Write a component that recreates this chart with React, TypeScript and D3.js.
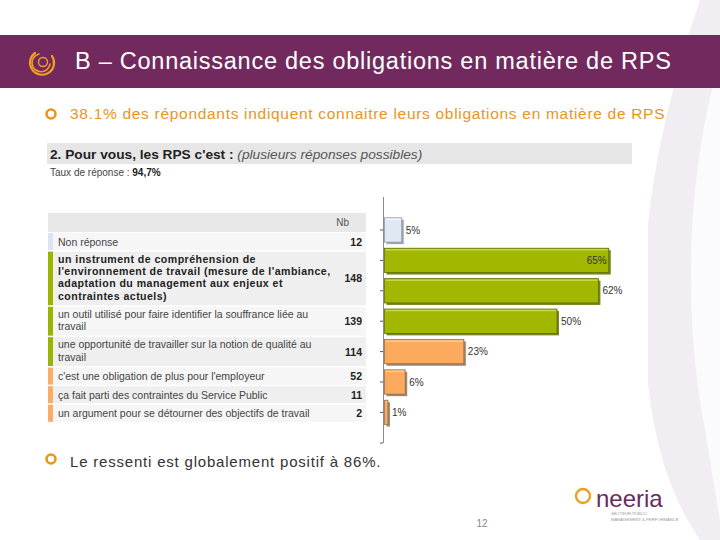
import React from "react";
import * as d3 from "d3";

const categories = [
  "Non réponse",
  "un instrument de compréhension de l'environnement de travail",
  "un outil utilisé pour faire identifier la souffrance liée au travail",
  "une opportunité de travailler sur la notion de qualité au travail",
  "c'est une obligation de plus pour l'employeur",
  "ça fait parti des contraintes du Service Public",
  "un argument pour se détourner des objectifs de travail",
];
const tableLines = [
  ["Non réponse"],
  ["un instrument de compréhension de", "l'environnement de travail (mesure de l'ambiance,", "adaptation du management aux enjeux et", "contraintes actuels)"],
  ["un outil utilisé pour faire identifier la souffrance liée au", "travail"],
  ["une opportunité de travailler sur la notion de qualité au", "travail"],
  ["c'est une obligation de plus pour l'employeur"],
  ["ça fait parti des contraintes du Service Public"],
  ["un argument pour se détourner des objectifs de travail"],
];
const counts = [12, 148, 139, 114, 52, 11, 2];
const percents = [5, 65, 62, 50, 23, 6, 1];
const groups = ["none", "green", "green", "green", "orange", "orange", "orange"];

const palette: Record<string, { fill: string; dark: string; light: string; marker: string }> = {
  none: { fill: "#dfe8f3", dark: "#8a96a6", light: "#f4f8fc", marker: "#dbe5f1" },
  green: { fill: "#a2b800", dark: "#5f6e00", light: "#c6d84a", marker: "#9bb400" },
  orange: { fill: "#fcab5e", dark: "#8f7054", light: "#fdc992", marker: "#f8ae68" },
};

const FONT = "'Liberation Sans', Arial, sans-serif";

export default function App() {
  const W = 720, H = 540;
  const x = d3.scaleLinear().domain([0, 100]).range([384, 729]);
  const y = d3.scaleBand<number>().domain(d3.range(categories.length)).range([214.8, 427.6]).paddingInner(0.2).paddingOuter(0.1);

  const rowH = tableLines.map((l) => (l.length === 1 ? 17 : l.length * 12.4 + 4));
  const rowTops: number[] = [];
  let cy = 233;
  rowH.forEach((h) => { rowTops.push(cy); cy += h + 1.6; });

  return (
    <div style={{ position: "absolute", left: 0, top: 0 }}>
      <svg width={W} height={H} style={{ display: "block" }}>
        <rect width={W} height={H} fill="#ffffff" />
        <path d="M700,0 C660,120 630,250 650,400 C660,470 680,510 700,540 L720,540 L720,0 Z" fill="#f1eef3" />
        <path d="M720,60 C690,160 680,300 705,430 C712,470 716,500 720,520 Z" fill="#fbfafc" />
        <rect x={0} y={35} width={W} height={53} fill="#722a5e" />
        <g transform="translate(43,62)" fill="none" stroke="#f0a020" strokeLinecap="round">
          <path d="M-8,-9 A12,12 0 1,0 9,-6" strokeWidth={2.2} />
          <path d="M-4,-8 A9,9 0 1,0 7,2" strokeWidth={1.6} />
          <circle r={4.5} strokeWidth={1.4} />
        </g>
        <text x={75} y={68.5} fill="#ffffff" fontFamily={FONT} fontSize={23.5} letterSpacing={0.75}>B – Connaissance des obligations en matière de RPS</text>

        <circle cx={51} cy={114} r={4.5} fill="none" stroke="#e8961e" strokeWidth={2.6} />
        <text x={70} y={119} fill="#e8961e" fontFamily={FONT} fontSize={15.5} letterSpacing={0.7}>38.1% des répondants indiquent connaitre leurs obligations en matière de RPS</text>

        <rect x={45} y={140} width={603} height={305} fill="#ffffff" />
        <rect x={47} y={143} width={585} height={21} fill="#e6e6e6" />
        <text x={50} y={159} fontFamily={FONT} fontSize={13.7}>
          <tspan fontWeight="bold" fill="#222">2. Pour vous, les RPS c'est : </tspan>
          <tspan fontStyle="italic" fill="#555">(plusieurs réponses possibles)</tspan>
        </text>
        <text x={50} y={176} fontFamily={FONT} fontSize={10} fill="#444">
          Taux de réponse : <tspan fontWeight="bold" fill="#222">94,7%</tspan>
        </text>

        <rect x={48} y={213} width={318} height={19} fill="#e8e8e8" />
        <text x={349} y={226} fontFamily={FONT} fontSize={10} fill="#555" textAnchor="end">Nb</text>
        {tableLines.map((lines, i) => {
          const top = rowTops[i];
          const h = rowH[i];
          const bold = i === 1;
          const g = palette[groups[i]];
          return (
            <g key={i}>
              <rect x={48} y={top} width={318} height={h} fill={i % 2 === 1 ? "#efefef" : "#f6f6f6"} />
              <rect x={48} y={top} width={5} height={h} fill={g.marker} />
              {lines.map((ln, j) => (
                <text key={j} x={58} y={top + (lines.length === 1 ? 12.5 : 11 + j * 12.4)} fontFamily={FONT} fontSize={bold ? 10.6 : 10.5} letterSpacing={bold ? 0.45 : 0} fontWeight={bold ? "bold" : "normal"} fill={bold ? "#222" : "#444"}>{ln}</text>
              ))}
              <text x={362} y={top + h / 2 + 4} fontFamily={FONT} fontSize={10.5} fontWeight="bold" fill="#222" textAnchor="end">{counts[i]}</text>
            </g>
          );
        })}

        <line x1={383.5} x2={383.5} y1={197} y2={443} stroke="#8c8c8c" />
        {categories.map((_, i) => {
          const c = (y(i) as number) + y.bandwidth() / 2;
          return <line key={i} x1={380} x2={383} y1={c} y2={c} stroke="#555" />;
        })}
        <line x1={380} x2={383} y1={443} y2={443} stroke="#555" />

        {percents.map((p, i) => {
          const g = palette[groups[i]];
          const x0 = x(0) + 0.5;
          const w = Math.max(x(p) - x(0), 2);
          const by = y(i) as number;
          const bh = y.bandwidth();
          const inside = p >= 64;
          return (
            <g key={i}>
              <rect x={x0 + 2} y={by + 2} width={w} height={bh} fill={g.dark} opacity={0.85} />
              <rect x={x0} y={by} width={w} height={bh} fill={g.fill} stroke={g.dark} strokeWidth={0.8} />
              <line x1={x0 + 1} x2={x0 + w - 1} y1={by + 1.5} y2={by + 1.5} stroke={g.light} strokeWidth={1.5} />
              <text x={inside ? x0 + w - 2 : x0 + w + 4} y={by + bh / 2 + 3.5} fontFamily={FONT} fontSize={10} fill="#333" textAnchor={inside ? "end" : "start"}>{p}%</text>
            </g>
          );
        })}

        <circle cx={51} cy={459} r={4.5} fill="none" stroke="#e8961e" strokeWidth={2.6} />
        <text x={70} y={467} fill="#333" fontFamily={FONT} fontSize={15} letterSpacing={0.8}>Le ressenti est globalement positif à 86%.</text>

        <text x={482} y={527} fill="#888" fontFamily={FONT} fontSize={10} textAnchor="middle">12</text>

        <circle cx={583} cy={496} r={7} fill="none" stroke="#f0a020" strokeWidth={2.4} />
        <text x={596} y={507} fill="#6b2a5e" fontFamily={FONT} fontSize={24}>neeria</text>
        <text x={611} y={515} fill="#999" fontFamily={FONT} fontSize={4.2}>SECTEUR PUBLIC</text>
        <text x={611} y={520.5} fill="#999" fontFamily={FONT} fontSize={4.2}>MANAGEMENT &amp; PERFORMANCE</text>
      </svg>
    </div>
  );
}
